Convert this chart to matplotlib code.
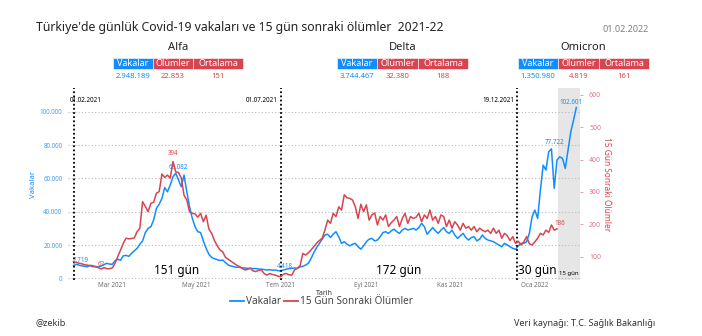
import numpy as np
import pandas as pd
import matplotlib
matplotlib.use("Agg")
import matplotlib.pyplot as plt
import matplotlib.dates as mdates
from matplotlib.patches import Rectangle
from matplotlib.ticker import FuncFormatter
from matplotlib.lines import Line2D

plt.rcParams['font.family'] = ['Noto Sans', 'DejaVu Sans']

MAVI = "#118DFF"
KIRMIZI = "#D64550"

# günlük vaka (2 günde bir okunan değerler, 01.02.2021'den başlayarak)
vakalar = [
    7719, 8400, 7900, 7500, 7200, 7000, 7800, 7600, 6800, 6900,
    7400, 8200, 9000, 8600, 8400, 10500, 11500, 10800, 13500, 13800,
    13200, 15000, 16500, 18000, 20500, 22500, 27500, 30000, 31000, 35000,
    42000, 44500, 48000, 54500, 52000, 56000, 61000, 63082, 59000, 55000,
    62000, 52000, 43000, 36000, 31000, 28000, 27500, 22500, 18000, 14500,
    12500, 11800, 11200, 10700, 11000, 9500, 8000, 7400, 7000, 6600,
    6700, 6300, 6200, 6000, 6100, 5800, 5900, 5600, 5500, 5300,
    5000, 5200, 4900, 5000, 4600, 4418, 5000, 5500, 5800, 6000,
    6200, 6000, 6800, 7200, 8000, 9000, 12000, 15500, 18500, 21000,
    23500, 26000, 26500, 24500, 26500, 28000, 25000, 21000, 22000, 20500,
    19500, 20500, 21000, 19000, 17500, 19500, 22000, 23500, 24000, 22500,
    23000, 25000, 27500, 28000, 27000, 28500, 29500, 28000, 27000, 29000,
    30000, 29000, 29500, 30000, 29000, 30500, 33000, 31000, 26500, 28500,
    30500, 28500, 27000, 29000, 30500, 28000, 27000, 29000, 26000, 24000,
    25500, 27000, 24500, 23000, 24500, 25000, 22500, 23500, 26000, 24000,
    23000, 22500, 22000, 21000, 20000, 19000, 21000, 20000, 19000, 18000,
    17500, 19500, 21000, 21000, 22000, 27000, 37000, 41000, 36000, 53000,
    68000, 65000, 76000, 77722, 54000, 71000, 73000, 72000, 66000, 77000,
    88000, 95000, 102601,
]

# 15 gün sonraki ölümler (2 günde bir, 01.02.2021'den başlayarak)
olumler = [
    85, 82, 80, 78, 75, 74, 72, 69, 70, 66,
    62, 66, 63, 63, 65, 79, 100, 120, 141, 157,
    155, 156, 158, 177, 188, 270, 255, 239, 265, 268,
    296, 301, 355, 345, 352, 343, 394, 362, 360, 343,
    290, 275, 239, 234, 232, 222, 234, 208, 228, 185,
    172, 150, 134, 121, 115, 98, 92, 86, 80, 74,
    70, 64, 59, 61, 64, 56, 54, 58, 59, 48,
    43, 48, 45, 43, 40, 38, 46, 48, 44, 43,
    59, 64, 72, 110, 105, 112, 121, 131, 142, 150,
    157, 182, 213, 203, 234, 224, 254, 244, 291, 282,
    280, 275, 254, 218, 262, 239, 260, 213, 229, 235,
    198, 224, 213, 229, 193, 205, 213, 224, 193, 218,
    234, 203, 224, 218, 222, 234, 208, 229, 218, 244,
    213, 224, 203, 229, 224, 193, 213, 188, 208, 198,
    182, 203, 188, 193, 182, 193, 177, 188, 182, 177,
    182, 172, 188, 172, 182, 157, 172, 165, 150, 162,
    141, 148, 136, 146, 162, 140, 136, 146, 157, 172,
    167, 182, 175, 198, 182, 186,
]

varyantlar = ["Alfa", "Delta", "Omicron"]
donem_baslangic = ["2021-02-01", "2021-07-01", "2021-12-19"]
donem_bitis = ["2021-07-01", "2021-12-19", "2022-01-18"]
gun_sayisi = [151, 172, 30]
vaka_toplam = [2948189, 3744467, 1350980]
olum_toplam = [22853, 32380, 4819]
ortalama = [151, 188, 161]
golge = ("2022-01-18", "2022-02-02 12:00")

W, H = 702, 336


def fx(x):
    return x / W


def fy(y):
    return 1 - y / H


def nokta(v):
    return f"{v:,}".replace(",", ".")


t_vaka = pd.date_range("2021-02-01", periods=len(vakalar), freq="2D")
t_olum = pd.date_range("2021-02-01", periods=len(olumler), freq="2D")

fig = plt.figure(figsize=(W / 100, H / 100), dpi=100)
ax = fig.add_axes([fx(68), fy(280), fx(580) - fx(68), fy(88) - fy(280)])
ax2 = ax.twinx()

ax.set_xlim(pd.Timestamp("2021-01-28"), pd.Timestamp("2022-02-02 16:00"))
ax.set_ylim(-1000, 114300)
ax2.set_ylim(28, 621)

ax.axvspan(pd.Timestamp(golge[0]), pd.Timestamp(golge[1]), color="#e6e6e6", lw=0, zorder=0)

ax.plot(t_vaka, vakalar, color=MAVI, lw=1.1, zorder=3)
ax2.plot(t_olum, olumler, color=KIRMIZI, lw=1.1, zorder=3)

ax.set_yticks(np.arange(0, 100001, 20000))
ax.yaxis.set_major_formatter(FuncFormatter(lambda v, p: nokta(int(v))))
ax.grid(axis="y", color="#b8b8b8", linestyle=(0, (1, 2)), lw=0.8)
ax.set_axisbelow(True)
ax.tick_params(axis="y", labelsize=4.5, labelcolor="#4d9fec", length=0, pad=4)
ax2.set_yticks(np.arange(100, 601, 100))
ax2.tick_params(axis="y", labelsize=5, labelcolor="#e07a85", color="#e07a85",
                length=2.5, width=0.5, pad=4)

ax.xaxis.set_major_locator(mdates.MonthLocator(bymonth=[3, 5, 7, 9, 11, 1]))
aylar = {1: "Oca", 3: "Mar", 5: "May", 7: "Tem", 9: "Eyl", 11: "Kas"}
ax.xaxis.set_major_formatter(FuncFormatter(
    lambda v, p: f"{aylar[mdates.num2date(v).month]} {mdates.num2date(v).year}"))
ax.tick_params(axis="x", labelsize=4.5, labelcolor="#707070", length=0, pad=1.5)

for a in (ax, ax2):
    for s in a.spines.values():
        s.set_visible(False)

ax.set_ylabel("Vakalar", color=MAVI, fontsize=5.5, labelpad=2)
ax2.set_ylabel("15 Gün Sonraki Ölümler", color=KIRMIZI, fontsize=6, rotation=270, labelpad=7)
ax.set_xlabel("Tarih", fontsize=5, fontweight="bold", color="#333333", labelpad=1)

# dönem çizgileri ve etiketleri
for i, d in enumerate(donem_baslangic):
    t = pd.Timestamp(d)
    ax.axvline(t, color="black", linestyle=(0, (1, 1.3)), lw=1.3, zorder=4)
    etiket = t.strftime("%d.%m.%Y")
    if i == 0:
        ax.text(t - pd.Timedelta(days=3), 106500, etiket, fontsize=4.5, ha="left", va="center")
    else:
        ax.text(t - pd.Timedelta(days=2), 106500, etiket, fontsize=4.5, ha="right", va="center")

for b, e, g in zip(donem_baslangic, donem_bitis, gun_sayisi):
    orta = pd.Timestamp(b) + (pd.Timestamp(e) - pd.Timestamp(b)) / 2
    ax.text(orta, 5000, f"{g} gün", fontsize=8.5, ha="center", va="center", zorder=5)
g0, g1 = pd.Timestamp(golge[0]), pd.Timestamp(golge[1])
ax.text(g0 + (g1 - g0) / 2, 3200, "15 gün", fontsize=4.3, ha="center", va="center", zorder=5)


# veri etiketleri
def vaka_etiket(i, dx, dy):
    ax.annotate(nokta(vakalar[i]), (t_vaka[i], vakalar[i]), xytext=(dx, dy),
                textcoords="offset points", fontsize=4.5, color=MAVI,
                fontweight="bold", ha="center", va="bottom", zorder=6)


def olum_etiket(i, dx, dy):
    ax2.annotate(nokta(olumler[i]), (t_olum[i], olumler[i]), xytext=(dx, dy),
                 textcoords="offset points", fontsize=4.5, color=KIRMIZI,
                 fontweight="bold", ha="center", va="bottom", zorder=6)


vaka_etiket(0, 5, 1)
vaka_etiket(int(np.argmax(vakalar[:80])), 2, 2)
vaka_etiket(int(np.argmin(vakalar[:160])), 3, 1)
vaka_etiket(int(np.argmax(vakalar[:178])), 2, 2)
vaka_etiket(len(vakalar) - 1, -4, 1)
olum_etiket(int(np.argmin(olumler[:40])), 0, 1)
olum_etiket(int(np.argmax(olumler)), 0, 3)
olum_etiket(len(olumler) - 1, 2, 1)

# başlık
fig.text(fx(36), fy(27), "Türkiye'de günlük Covid-19 vakaları ve 15 gün sonraki ölümler  2021-22",
         fontsize=8.8, ha="left", va="center", color="#222222")
fig.text(fx(649), fy(29), "01.02.2022", fontsize=6.5, ha="right", va="center", color="#808080")

# özet tabloları
tablo_x = [113, 337, 518]
kolon_w = [40, 40, 50]
for k, ad in enumerate(varyantlar):
    x0 = tablo_x[k]
    toplam_w = sum(kolon_w) + (1 if k > 0 else 0)
    fig.text(fx(x0 + toplam_w / 2), fy(48), ad, fontsize=8, ha="center", va="center", color="#222222")
    basliklar = ["Vakalar", "Ölümler", "Ortalama"]
    degerler = [nokta(vaka_toplam[k]), nokta(olum_toplam[k]), str(ortalama[k])]
    renkler = [MAVI, KIRMIZI, KIRMIZI]
    x = x0
    for j in range(3):
        w = kolon_w[j] + (1 if (k > 0 and j == 1) else 0)
        fig.add_artist(Rectangle((fx(x), fy(69)), fx(w), fy(58) - fy(69),
                                 transform=fig.transFigure, facecolor=renkler[j],
                                 edgecolor="white", lw=0.4))
        fig.text(fx(x + w / 2), fy(63.5), basliklar[j], fontsize=6.5, color="white",
                 ha="center", va="center")
        fig.text(fx(x + w / 2), fy(77), degerler[j], fontsize=5.5, color=renkler[j],
                 fontweight="bold", ha="center", va="center")
        x += w

# açıklama
el = [Line2D([], [], color=MAVI, lw=1.3), Line2D([], [], color=KIRMIZI, lw=1.3)]
fig.legend(el, ["Vakalar", "15 Gün Sonraki Ölümler"], loc="center",
           bbox_to_anchor=(fx(321), fy(302)), ncol=2, frameon=False, fontsize=7.2,
           handlelength=1.4, handletextpad=0.2, columnspacing=0.3, labelcolor="#444444",
           borderpad=0.1)

fig.text(fx(36), fy(323), "@zekib", fontsize=6.5, ha="left", va="center", color="#333333")
fig.text(fx(655), fy(323), "Veri kaynağı: T.C. Sağlık Bakanlığı", fontsize=6.5,
         ha="right", va="center", color="#333333")

fig.savefig("out.png", dpi=100)
